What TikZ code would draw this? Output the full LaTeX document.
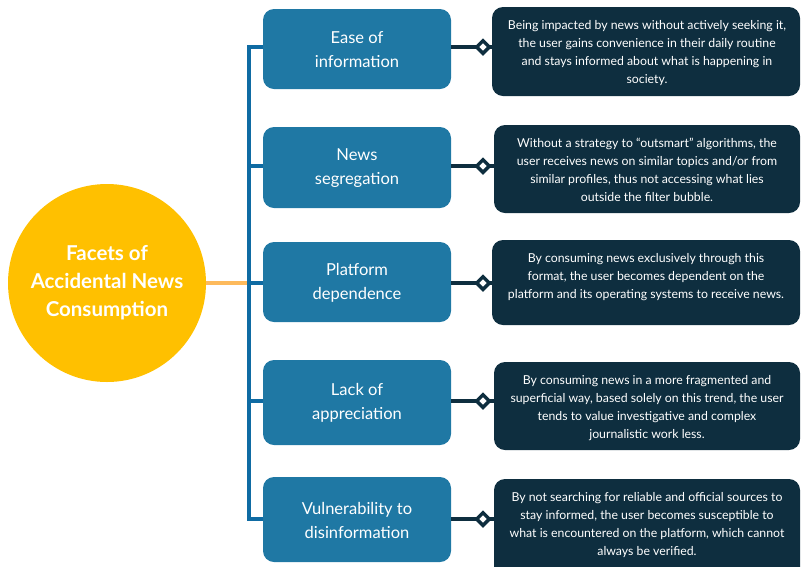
\documentclass[tikz,border=0pt]{standalone}
\usepackage{fontspec}
\setmainfont{Lato}
\usetikzlibrary{shapes.geometric}
\begin{document}
\begin{tikzpicture}[x=1pt,y=-1pt,
  facet/.style={fill=facetblue, rounded corners=11pt},
  ftext/.style={text=white, align=center, font=\fontsize{16.5}{24}\selectfont},
  desc/.style={fill=descdark, rounded corners=11pt},
  dtext/.style={text=white, align=center, font=\fontsize{12.3}{18}\selectfont},
  trunk/.style={draw=trunkblue, line width=4pt},
  link/.style={draw=descdark, line width=4.5pt},
  dia/.style={draw=descdark, fill=white, line width=3.5pt, minimum size=14pt, inner sep=0pt, shape=diamond},
]
\definecolor{facetblue}{HTML}{1F78A4}
\definecolor{trunkblue}{HTML}{0F6BA3}
\definecolor{descdark}{HTML}{0E2E3F}
\definecolor{circleyel}{HTML}{FFC000}
\definecolor{linkorange}{HTML}{FDBA5C}
\useasboundingbox (0,0) rectangle (801,566);
\clip (0,0) rectangle (801,566);

% circle
\node[circle, fill=circleyel, minimum size=198pt, inner sep=0pt, text=white, align=center,
  font=\bfseries\fontsize{20.5}{28}\selectfont] (core) at (107,283)
  {Facets of\\Accidental News\\Consumption};

% facet boxes
\path[facet] (263,9) rectangle (451,89);
\node[ftext] (f1) at (357,50) {Ease of\\information};
\path[facet] (263,127) rectangle (451,208);
\node[ftext] (f2) at (357,168.5) {News\\segregation};
\path[facet] (263,242) rectangle (451,322);
\node[ftext] (f3) at (357,283) {Platform\\dependence};
\path[facet] (263,360) rectangle (451,445);
\node[ftext] (f4) at (357,402.5) {Lack of\\appreciation};
\path[facet] (263,477) rectangle (451,562);
\node[ftext] (f5) at (357,520) {Vulnerability to\\disinformation};

\coordinate (f1w) at (263,47);
\coordinate (f2w) at (263,166);
\coordinate (f3w) at (263,283);
\coordinate (f4w) at (263,401);
\coordinate (f5w) at (263,519);
\coordinate (f1e) at (451,47);
\coordinate (f2e) at (451,166);
\coordinate (f3e) at (451,283);
\coordinate (f4e) at (451,401);
\coordinate (f5e) at (451,519);
\coordinate (tr) at (249,283);

% trunk
\draw[draw=linkorange, line width=4pt] (core.east) -- (tr);
\draw[trunk] (f1w) -- (249,47) -- (249,519) -- (f5w);
\draw[trunk] (249,166) -- (f2w);
\draw[trunk] (tr) -- (f3w);
\draw[trunk] (249,401) -- (f4w);

% description boxes
\path[desc] (492,7) rectangle (800,96);
\node[dtext] (d1) at (647,53) {Being impacted by news without actively seeking it,\\the user gains convenience in their daily routine\\and stays informed about what is happening in\\society.};
\path[desc] (494,125) rectangle (800,213);
\node[dtext] (d2) at (647,170) {Without a strategy to “outsmart” algorithms, the\\user receives news on similar topics and/or from\\similar profiles, thus not accessing what lies\\outside the filter bubble.};
\path[desc] (492,240) rectangle (800,325);
\node[dtext] (d3) at (646,277) {By consuming news exclusively through this\\format, the user becomes dependent on the\\platform and its operating systems to receive news.};
\path[desc] (494,362) rectangle (800,450);
\node[dtext] (d4) at (647,408) {By consuming news in a more fragmented and\\superficial way, based solely on this trend, the user\\tends to value investigative and complex\\journalistic work less.};
\path[desc] (494,479) rectangle (800,580);
\node[dtext] (d5) at (647,525) {By not searching for reliable and official sources to\\stay informed, the user becomes susceptible to\\what is encountered on the platform, which cannot\\always be verified.};

% links with diamonds
\foreach \i/\y/\x in {1/47/492,2/166/494,3/283/492,4/401/494,5/519/494}{
  \coordinate (t\i) at (\x,\y);
  \draw[link] (f\i e) -- (t\i);
  \node[dia] (k\i) at (483,\y) {};
}
\end{tikzpicture}
\end{document}
